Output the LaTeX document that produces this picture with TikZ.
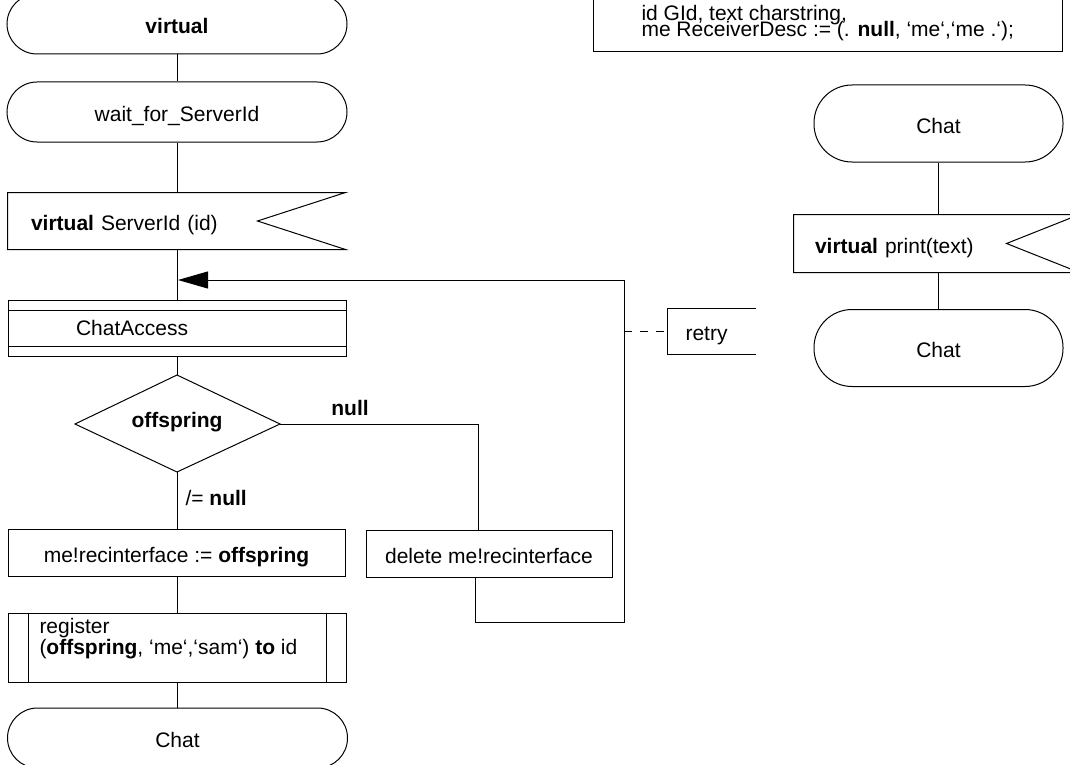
\documentclass[tikz,border=0pt]{standalone}
\usepackage{fontspec}
\setmainfont{Liberation Sans}
\usetikzlibrary{arrows.meta}
\newcommand\mytightlines{\lineskiplimit-100pt\relax}
\begin{document}
\begin{tikzpicture}[x=1pt,y=-1pt,line width=1pt,
  every node/.style={font=\fontsize{21}{21}\selectfont, inner sep=0pt},
  lowtext/.style={text height=19pt, text depth=0pt},
  term/.style={draw, rounded corners=30pt, minimum width=340pt, minimum height=60pt, lowtext},
  rterm/.style={draw, rounded corners=38pt, minimum width=249pt, minimum height=77pt, lowtext},
  taskbox/.style={draw, minimum height=47pt, lowtext},
  multiline/.style={align=left, font={\fontsize{21}{#1}\selectfont\mytightlines}},
]
\useasboundingbox (0,0) rectangle (1070,765);
\clip (0,0) rectangle (1070,765);

% left column
\node[term] (vt) at (177,24) {\textbf{virtual}};
\node[term] (wait) at (177,112) {wait\_for\_ServerId};

\node[minimum width=337pt, minimum height=56pt, text width=291pt, inner xsep=23pt, align=left, lowtext] (sid) at (176.5,221) {\textbf{virtual} ServerId (id)};
\draw (sid.north east) -- (sid.north west) -- (sid.south west) -- (sid.south east) -- ([xshift=-88pt]sid.east) -- cycle;

\node[draw, minimum width=338pt, minimum height=56pt, text width=202pt, inner xsep=68pt, align=left] (ca) at (177,328) {ChatAccess};
\draw ([yshift=-11pt]ca.north west) -- ([yshift=-11pt]ca.north east);
\draw ([yshift=10pt]ca.south west) -- ([yshift=10pt]ca.south east);

\coordinate (dtop) at (177,375);
\coordinate (dright) at (280,424);
\coordinate (dbot) at (177,472);
\coordinate (dleft) at (75,424);
\draw (dtop) -- (dright) -- (dbot) -- (dleft) -- cycle;
\node (dtxt) at (177,422) {\textbf{offspring}};
\node (lnull) at (350,408) {\textbf{null}};
\node[anchor=west] (lnn) at (185,498) {/= \textbf{null}};

\node[taskbox, minimum width=337pt] (mr) at (176.5,552.5) {me!recinterface := \textbf{offspring}};
\node[taskbox, minimum width=246pt] (del) at (489,553.5) {delete me!recinterface};

\node[draw, minimum width=338pt, minimum height=69pt] (reg) at (177,647.5) {};
\draw ([xshift=21pt]reg.north west) -- ([xshift=21pt]reg.south west);
\draw ([xshift=-20pt]reg.north east) -- ([xshift=-20pt]reg.south east);
\node[anchor=north west, multiline=21] (regtxt) at (39,618) {register\\(\textbf{offspring}, ‘me‘,‘sam‘) \textbf{to} id};

\node[term] (chat) at (177.5,738) {Chat};

% connectors left
\draw (vt.south) -- (wait.north);
\draw (wait.south) -- (wait.south |- sid.north);
\draw (wait.south |- sid.south) -- (wait.south |- ca.north);
\draw (wait.south |- ca.south) -- (dtop);
\draw (dbot) -- (dbot |- mr.north);
\coordinate (delin) at (478,530);
\draw (dright) -| (delin);
\draw (dbot |- mr.south) -- (dbot |- reg.north);
\draw (dbot |- reg.south) -- (dbot |- chat.north);
\coordinate (delout) at (475,577);
\coordinate (merge) at (178,280);
\draw[-{Triangle[length=30pt,width=17pt]}] (delout) -- (475,622) -- (624,622) -- (624,280) -- (merge);

% retry comment
\coordinate (rtap) at (624,331);
\node[text width=52pt, inner xsep=18pt, minimum height=45pt, align=left, anchor=west, lowtext] (rt) at (667,331) {retry};
\draw (rt.north east) -- (rt.north west) -- (rt.south west) -- (rt.south east);
\draw[dash pattern=on 8pt off 8pt] (rtap) -- (rt.west);

% declarations
\node[draw, minimum width=469pt, minimum height=80pt] (decl) at (827.5,12) {};
\node[anchor=north west, multiline=16] (decltxt) at (641,4.5) {id GId, text charstring,\\me ReceiverDesc := (. \textbf{null}, ‘me‘,‘me .‘);};

% right column
\node[rterm] (c1) at (938.5,123.5) {Chat};
\node[minimum width=285pt, minimum height=57pt, text width=243pt, inner xsep=21pt, align=left, lowtext] (ps) at (936.5,243.5) {\textbf{virtual} print(text)};
\draw (ps.north east) -- (ps.north west) -- (ps.south west) -- (ps.south east) -- ([xshift=-73pt]ps.east) -- cycle;
\node[rterm] (c2) at (938.5,348) {Chat};
\draw (c1.south) -- (c1.south |- ps.north);
\draw (c1.south |- ps.south) -- (c2.north);
\end{tikzpicture}
\end{document}
